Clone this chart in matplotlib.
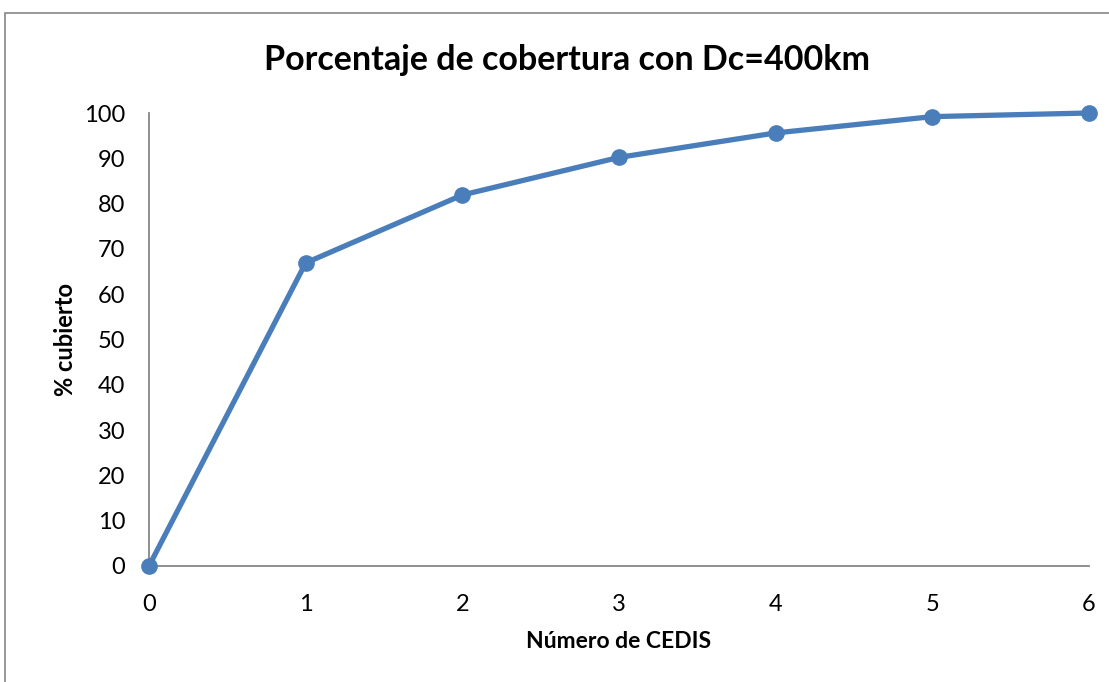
import numpy as np
import matplotlib.pyplot as plt
from matplotlib.patches import Rectangle

cedis = [0, 1, 2, 3, 4, 5, 6]
cubierto = [0, 66.9, 81.9, 90.2, 95.6, 99.2, 100]

plt.rcParams['font.family'] = ['Lato', 'DejaVu Sans']
blue = '#4a7ebb'
grey = '#868686'

fig = plt.figure(figsize=(11.09, 6.82), dpi=100)
# chart frame
fig.patches.append(Rectangle((5 / 1109, -0.1), 1.2, 1 - 13 / 682 + 0.1,
                             transform=fig.transFigure, fill=False,
                             edgecolor=grey, linewidth=1.2))

ax = fig.add_axes([149 / 1109, 1 - 566 / 682, 940 / 1109, 453 / 682])
ax.plot(cedis, cubierto, color=blue, linewidth=3.8, marker='o',
        markersize=11, clip_on=False, zorder=3)
ax.set_xlim(0, 6)
ax.set_ylim(0, 100)
ax.set_xticks(range(0, 7))
ax.set_yticks(range(0, 101, 10))
for s in ['top', 'right']:
    ax.spines[s].set_visible(False)
for s in ['left', 'bottom']:
    ax.spines[s].set_color(grey)
    ax.spines[s].set_linewidth(1.3)
ax.tick_params(length=0, labelsize=17, pad=17)
ax.tick_params(axis='x', pad=20)

fig.text(567 / 1109, 1 - 60 / 682, 'Porcentaje de cobertura con Dc=400km',
         ha='center', va='center', fontsize=24.5, fontweight='bold')
ax.set_xlabel('Número de CEDIS', fontsize=16.5, fontweight='bold', labelpad=12)
ax.set_ylabel('% cubierto', fontsize=17, fontweight='bold', labelpad=5)

fig.savefig('out.png', dpi=100)
